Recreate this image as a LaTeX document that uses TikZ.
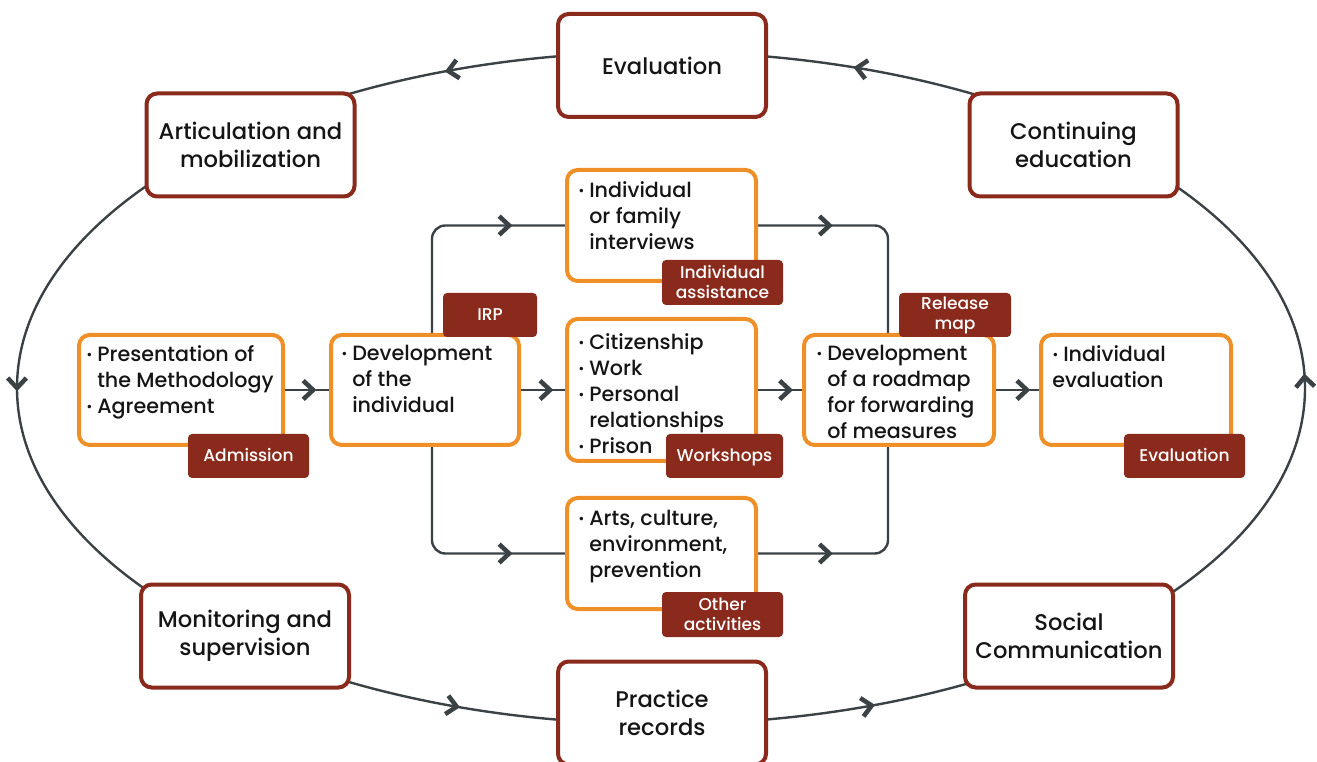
\documentclass[tikz,border=0pt]{standalone}
\usepackage{fontspec}
\IfFontExistsTF{Poppins Medium}{\setmainfont{Poppins Medium}}{\setmainfont{Poppins}[FakeBold=1.5]}
\usetikzlibrary{calc}
\definecolor{dred}{HTML}{8A2A1C}
\definecolor{orng}{HTML}{EF8F27}
\definecolor{lgray}{HTML}{3B4245}
\definecolor{ink}{HTML}{151515}
\pgfdeclarelayer{bg}
\pgfsetlayers{bg,main}
\newcommand\bulmk{\makebox[8.25pt][l]{\raisebox{1.2pt}{\fontsize{10pt}{10pt}\selectfont •}}}
\newcommand\bulsp{\hspace*{8.25pt}}
\newcommand\chev[2]{\draw[chevst, shift={#1}, rotate=#2] (-7.5pt,7pt) -- (0pt,0pt) -- (-7.5pt,-7pt);}
\tikzset{
  redbox/.style={draw=dred, line width=3pt, rounded corners=8pt, fill=white,
    minimum width=208*0.75pt, minimum height=103*0.75pt, align=center, text=ink,
    font=\fontsize{17pt}{21pt}\selectfont, inner sep=0pt},
  orbox/.style={draw=orng, line width=3pt, rounded corners=8pt, fill=white, inner sep=0pt},
  btext/.style={anchor=north west, align=left, text=ink, inner sep=0pt,
    font=\fontsize{15.5pt}{19.5pt}\selectfont},
  tagbox/.style={fill=dred, rounded corners=3pt, text=white, align=center, inner sep=0pt,
    font=\fontsize{12.8pt}{15pt}\selectfont},
  tagone/.style={tagbox, text height=9pt, text depth=0pt},
  conn/.style={draw=lgray, line width=1.8pt},
  chevst/.style={draw=lgray, line width=3.4pt, line cap=butt, line join=miter}
}
\begin{document}
\begin{tikzpicture}[x=0.75pt,y=-0.75pt]
\useasboundingbox (0,0) rectangle (1317,762);
% outer cycle boxes
\node[redbox] (eval) at (662,65.5) {Evaluation};
\node[redbox] (artic) at (250.5,145) {Articulation and\\mobilization};
\node[redbox] (cont) at (1073.5,145) {Continuing\\education};
\node[redbox] (monit) at (245,636) {Monitoring and\\supervision};
\node[redbox] (social) at (1069,636) {Social\\Communication};
\node[redbox] (pract) at (662,713) {Practice\\records};
% inner flow boxes
\node[orbox, minimum width=204*0.75pt, minimum height=110*0.75pt] (A) at (181,390) {};
\node[orbox, minimum width=188*0.75pt, minimum height=110*0.75pt] (B) at (425,390) {};
\node[orbox, minimum width=189*0.75pt, minimum height=111*0.75pt] (C1) at (661.5,225.5) {};
\node[orbox, minimum width=189*0.75pt, minimum height=142*0.75pt] (C2) at (661.5,390) {};
\node[orbox, minimum width=189*0.75pt, minimum height=111*0.75pt] (C3) at (661.5,553.5) {};
\node[orbox, minimum width=190*0.75pt, minimum height=110*0.75pt] (D) at (899,390) {};
\node[orbox, minimum width=190*0.75pt, minimum height=110*0.75pt] (E) at (1136,390) {};
% texts
\node[btext] (At) at (86,345) {\bulmk Presentation of\\\bulsp the Methodology\\\bulmk Agreement};
\node[btext] (Bt) at (341,345) {\bulmk Development\\\bulsp of the\\\bulsp individual};
\node[btext] (C1t) at (578,181) {\bulmk Individual\\\bulsp or family\\\bulsp interviews};
\node[btext] (C2t) at (578,333) {\bulmk Citizenship\\\bulmk Work\\\bulmk Personal\\\bulsp relationships\\\bulmk Prison};
\node[btext] (C3t) at (578,510) {\bulmk Arts, culture,\\\bulsp environment,\\\bulsp prevention};
\node[btext] (Dt) at (816,345) {\bulmk Development\\\bulsp of a roadmap\\\bulsp for forwarding\\\bulsp of measures};
\node[btext] (Et) at (1052,345) {\bulmk Individual\\evaluation};
% tags
\node[tagone, minimum width=121*0.75pt, minimum height=44*0.75pt] (tadm) at (248.5,456) {Admission};
\node[tagone, minimum width=94*0.75pt, minimum height=44*0.75pt] (tirp) at (490,315) {IRP};
\node[tagbox, minimum width=121*0.75pt, minimum height=45*0.75pt] (tind) at (722.5,282.5) {Individual\\assistance};
\node[tagone, minimum width=117*0.75pt, minimum height=44*0.75pt] (twork) at (724.5,456) {Workshops};
\node[tagbox, minimum width=121*0.75pt, minimum height=45*0.75pt] (tother) at (722.5,614.5) {Other\\activities};
\node[tagbox, minimum width=112*0.75pt, minimum height=44*0.75pt] (trel) at (955,315) {Release\\map};
\node[tagone, minimum width=121*0.75pt, minimum height=44*0.75pt] (teval) at (1184.5,456) {Evaluation};
% helper coordinates
\coordinate (ctr) at (661,388);
\coordinate (bx) at (432,390);
\coordinate (dx) at (888,390);
\begin{pgfonlayer}{bg}
\draw[conn] (ctr) ellipse [x radius=483pt, y radius=252pt];
\draw[conn] (A) -- (B);
\draw[conn] (B) -- (C2);
\draw[conn] (C2) -- (D);
\draw[conn] (D) -- (E);
\draw[conn, rounded corners=10pt] (bx |- B.north) |- (C1.west);
\draw[conn, rounded corners=10pt] (bx |- B.south) |- (C3.west);
\draw[conn, rounded corners=10pt] (C1.east) -| (dx |- D.north);
\draw[conn, rounded corners=10pt] (C3.east) -| (dx |- D.south);
\end{pgfonlayer}
% chevrons on the inner connectors
\chev{($(A.east)!0.64!(B.west)$)}{0}
\chev{($(B.east)!0.66!(C2.west)$)}{0}
\chev{($(C2.east)!0.72!(D.west)$)}{0}
\chev{($(D.east)!0.72!(E.west)$)}{0}
\chev{($(bx |- C1.west)!0.58!(C1.west)$)}{0}
\chev{($(bx |- C3.west)!0.58!(C3.west)$)}{0}
\chev{($(C1.east)!0.55!(dx |- C1.east)$)}{0}
\chev{($(C3.east)!0.55!(dx |- C3.east)$)}{0}
% chevrons on the outer cycle
\chev{({661+644*cos(1.9)},{388-336*sin(1.9)})}{93.6}
\chev{({661+644*cos(72.3)},{388-336*sin(72.3)})}{170.55}
\chev{({661+644*cos(109.3)},{388-336*sin(109.3)})}{190.35}
\chev{({661+644*cos(180)},{388-336*sin(180)})}{270}
\chev{({661+644*cos(251.5)},{388-336*sin(251.5)})}{-9.9}
\chev{({661+644*cos(289.1)},{388-336*sin(289.1)})}{10.24}
\end{tikzpicture}
\end{document}
